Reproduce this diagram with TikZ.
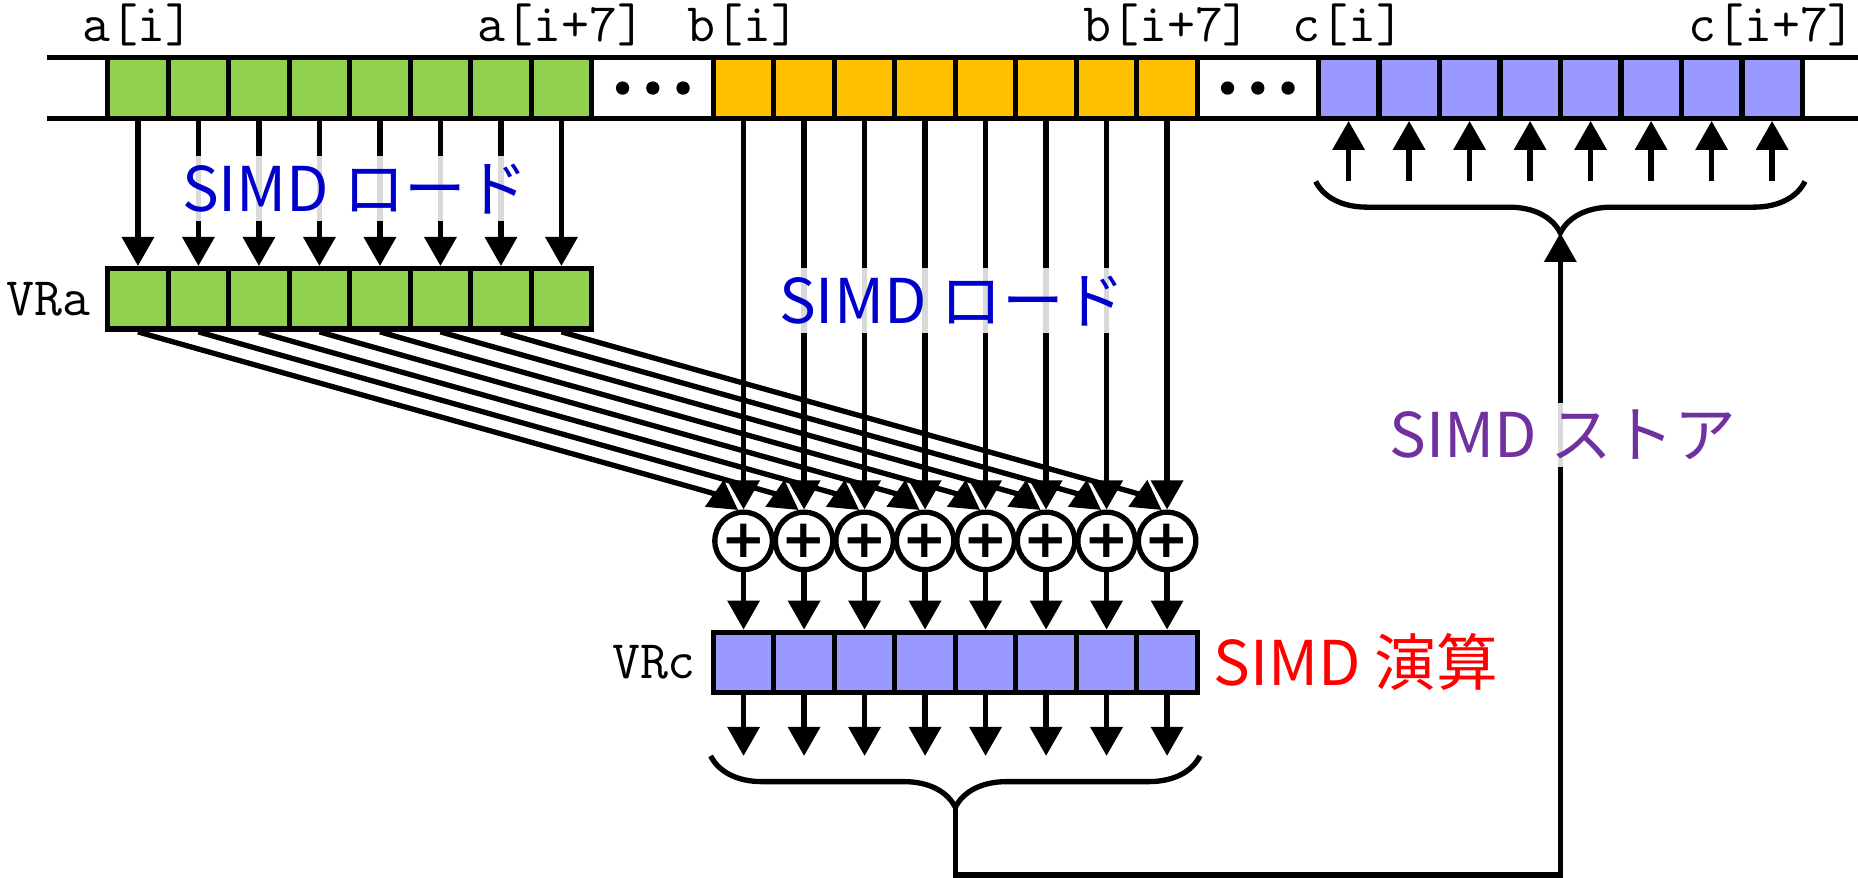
\documentclass[tikz,border=0pt]{standalone}
\usepackage{fontspec}
\usepackage{xcolor}
\usepackage{tikz}
\usetikzlibrary{arrows.meta, positioning, decorations.pathreplacing, calc}
\newfontfamily\jpfont{Noto Sans CJK JP}
\newfontfamily\plusfont{DejaVu Sans}
\definecolor{cellgreen}{HTML}{92D050}
\definecolor{cellorange}{HTML}{FFC000}
\definecolor{cellblue}{HTML}{9999FF}
\definecolor{loadblue}{HTML}{0000CC}
\definecolor{storepurple}{HTML}{7030A0}

\begin{document}
\begin{tikzpicture}[>={Triangle[length=0.48cm,width=0.52cm]}, line width=2.5pt,
  cell/.style={draw, minimum width=1cm, minimum height=1cm, inner sep=0pt},
  adder/.style={circle, draw, fill=white, minimum size=0.95cm, inner sep=0pt,
    font=\plusfont\bfseries\fontsize{25}{25}\selectfont},
  lbl/.style={inner sep=0pt, font=\ttfamily\fontsize{25.5}{30}\selectfont},
  op/.style={fill=white, fill opacity=0.85, text opacity=1, inner sep=0.12cm,
    font=\jpfont\fontsize{29}{34}\selectfont},
  curly/.style={decorate, decoration={brace, mirror, amplitude=0.85cm}}]
  \useasboundingbox (0,0) rectangle (30.71,-14.51);
  % memory
  \draw (0.78,-0.955) -- (30.71,-0.955) (0.78,-1.955) -- (30.71,-1.955);
  \foreach \i in {1,...,8} {
    \node[cell, fill=cellgreen] (a\i) at (1.28+\i,-1.455) {};
    \node[cell, fill=cellorange] (b\i) at (11.29+\i,-1.455) {};
    \node[cell, fill=cellblue] (c\i) at (21.29+\i,-1.455) {};
    \node[cell, fill=cellgreen] (ra\i) at (1.28+\i,-4.94) {};
    \node[adder] (p\i) at (11.29+\i,-8.94) {+};
    \node[cell, fill=cellblue] (rc\i) at (11.29+\i,-10.95) {};
  }
  \foreach \x in {10.29,10.79,11.29,20.29,20.79,21.29}
    \fill (\x,-1.455) circle (0.11);
  \node[lbl, anchor=base] (la1) at ([yshift=0.22cm]a1.north) {a[i]};
  \node[lbl, anchor=base] (la8) at ([yshift=0.22cm]a8.north) {a[i+7]};
  \node[lbl, anchor=base] (lb1) at ([yshift=0.22cm]b1.north) {b[i]};
  \node[lbl, anchor=base] (lb8) at ([yshift=0.22cm]b8.north) {b[i+7]};
  \node[lbl, anchor=base] (lc1) at ([yshift=0.22cm]c1.north) {c[i]};
  \node[lbl, anchor=base] (lc8) at ([yshift=0.22cm]c8.north) {c[i+7]};
  \node[lbl, left=0.2cm of ra1] (vra) {VRa};
  \node[lbl, left=0.2cm of rc1] (vrc) {VRc};
  % data flow
  \foreach \i in {1,...,8} {
    \coordinate (rcend\i) at ([yshift=-1cm]rc\i.south);
    \coordinate (cbeg\i) at ([yshift=-1cm]c\i.south);
    \draw[->] (a\i) -- (ra\i);
    \draw[->] (b\i) -- (p\i);
    \draw[->] (ra\i.south) to[out=-17, in=145, looseness=0.12] (p\i.100);
    \draw[->] (p\i) -- (rc\i);
    \draw[->] (rc\i.south) -- (rcend\i);
    \draw[->] (cbeg\i) -- (c\i.south);
  }
  \draw[curly] (rcend1 -| rc1.south west) -- (rcend8 -| rc8.south east);
  \draw[curly] (cbeg1 -| c1.south west) -- (cbeg8 -| c8.south east);
  \coordinate (lowtip) at ($(rcend1)!0.5!(rcend8)+(0,-0.85)$);
  \coordinate (uptip) at ($(cbeg1)!0.5!(cbeg8)+(0,-0.85)$);
  \coordinate (bottom) at (0,-14.46);
  \draw[->] (lowtip) -- (lowtip |- bottom) -| (uptip);
  % labels
  \node[op, text=loadblue] (lda) at (5.87,-3.12) {SIMD ロード};
  \node[op, text=loadblue] (ldb) at (15.74,-4.97) {SIMD ロード};
  \node[op, text=storepurple] (st) at (25.83,-7.19) {SIMD ストア};
  \node[op, text=red] (ops) at (22.41,-10.94) {SIMD 演算};
\end{tikzpicture}
\end{document}
